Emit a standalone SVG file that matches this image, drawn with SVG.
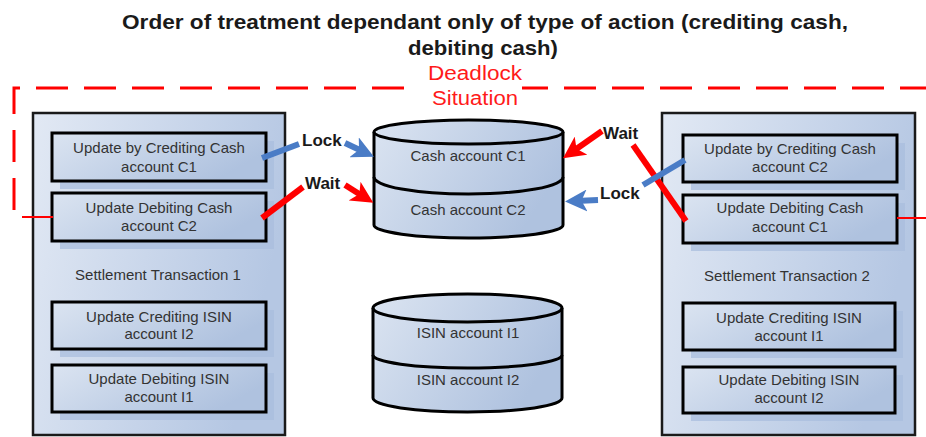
<svg xmlns="http://www.w3.org/2000/svg" width="926" height="437" viewBox="0 0 926 437">
<style>
  text { font-family: "Liberation Sans", Arial, sans-serif; }
  .title { font-size: 21px; font-weight: bold; fill: #1a1a1a; text-anchor: middle; }
  .red { font-size: 20px; fill: #ff1a1a; text-anchor: middle; }
  .lbl { font-size: 15px; fill: #333; text-anchor: middle; }
  .cl { font-size: 17px; font-weight: bold; fill: #1a1a1a; }
  .outer { fill: url(#gOuter); stroke: #1a1a1a; stroke-width: 2.5; }
  .inner { fill: url(#gInner); stroke: #000; stroke-width: 3; }
  .shadow { fill: #a9bddd; opacity: 0.75; }
  .cyl { fill: url(#gInner); stroke: #000; stroke-width: 3; }
  .cylline { fill: none; stroke: #000; stroke-width: 3; }
  .dash { fill: none; stroke: #ff0000; stroke-width: 3; stroke-dasharray: 32 16; }
  .blue { fill: none; stroke: #4a7cc6; stroke-width: 6; }
  .redc { fill: none; stroke: #ff0000; stroke-width: 6; }
</style>
<defs>
  <linearGradient id="gOuter" x1="0" y1="0" x2="1" y2="0.3">
    <stop offset="0" stop-color="#e2e9f4"/>
    <stop offset="1" stop-color="#b5c7e3"/>
  </linearGradient>
  <linearGradient id="gInner" x1="0" y1="0" x2="1" y2="0.4">
    <stop offset="0" stop-color="#dbe4f1"/>
    <stop offset="1" stop-color="#afc2df"/>
  </linearGradient>
  <marker id="ahBlue" viewBox="0 0 10 10" refX="5" refY="5" markerWidth="22" markerHeight="22" markerUnits="userSpaceOnUse" orient="auto">
    <path d="M0,0 L10,5 L0,10 L2.5,5 z" fill="#4a7cc6"/>
  </marker>
  <marker id="ahRed" viewBox="0 0 10 10" refX="5" refY="5" markerWidth="22" markerHeight="22" markerUnits="userSpaceOnUse" orient="auto">
    <path d="M0,0 L10,5 L0,10 L2.5,5 z" fill="#ff0000"/>
  </marker>
</defs>

<rect x="0" y="0" width="926" height="437" fill="#fff"/>

<g id="title">
  <text class="title" x="485" y="29" textLength="726" lengthAdjust="spacingAndGlyphs">Order of treatment dependant only of type of action (crediting cash,</text>
  <text class="title" x="483" y="55" textLength="150" lengthAdjust="spacingAndGlyphs">debiting cash)</text>
</g>

<g id="deadlock">
  <path class="dash" d="M14,210 V88 H940"/>
  <rect x="414" y="78" width="108" height="20" fill="#fff"/>
  <text class="red" x="475" y="80" textLength="94" lengthAdjust="spacingAndGlyphs">Deadlock</text>
  <text class="red" x="475" y="105" textLength="86" lengthAdjust="spacingAndGlyphs">Situation</text>
</g>

<g id="transaction1">
  <rect class="outer" x="33" y="113" width="252" height="322"/>
  <text class="lbl" x="158" y="280">Settlement Transaction 1</text>
</g>
<g id="t1-credit-cash">
  <rect class="shadow" x="60" y="141" width="214" height="48"/>
  <rect class="inner" x="52" y="133" width="214" height="48"/>
  <text class="lbl" x="159" y="153">Update by Crediting Cash</text>
  <text class="lbl" x="159" y="172">account C1</text>
</g>
<g id="t1-debit-cash">
  <rect class="shadow" x="60" y="201" width="214" height="48"/>
  <rect class="inner" x="52" y="193" width="214" height="48"/>
  <text class="lbl" x="159" y="213">Update Debiting Cash</text>
  <text class="lbl" x="159" y="231">account C2</text>
</g>
<g id="t1-credit-isin">
  <rect class="shadow" x="60" y="310" width="214" height="47"/>
  <rect class="inner" x="52" y="302" width="214" height="47"/>
  <text class="lbl" x="159" y="322">Update Crediting ISIN</text>
  <text class="lbl" x="159" y="339">account I2</text>
</g>
<g id="t1-debit-isin">
  <rect class="shadow" x="60" y="373" width="214" height="47"/>
  <rect class="inner" x="52" y="365" width="214" height="47"/>
  <text class="lbl" x="159" y="384">Update Debiting ISIN</text>
  <text class="lbl" x="159" y="402">account I1</text>
</g>

<g id="transaction2">
  <rect class="outer" x="662" y="113" width="253" height="322"/>
  <text class="lbl" x="787" y="281">Settlement Transaction 2</text>
</g>
<g id="t2-credit-cash">
  <rect class="shadow" x="691" y="143" width="214" height="47"/>
  <rect class="inner" x="683" y="135" width="214" height="47"/>
  <text class="lbl" x="790" y="154">Update by Crediting Cash</text>
  <text class="lbl" x="790" y="172">account C2</text>
</g>
<g id="t2-debit-cash">
  <rect class="shadow" x="691" y="203" width="214" height="48"/>
  <rect class="inner" x="683" y="195" width="214" height="48"/>
  <text class="lbl" x="790" y="213">Update Debiting Cash</text>
  <text class="lbl" x="790" y="232">account C1</text>
</g>
<g id="t2-credit-isin">
  <rect class="shadow" x="691" y="311" width="212" height="47"/>
  <rect class="inner" x="683" y="303" width="212" height="47"/>
  <text class="lbl" x="789" y="323">Update Crediting ISIN</text>
  <text class="lbl" x="789" y="341">account I1</text>
</g>
<g id="t2-debit-isin">
  <rect class="shadow" x="691" y="375" width="212" height="46"/>
  <rect class="inner" x="683" y="367" width="212" height="46"/>
  <text class="lbl" x="789" y="385">Update Debiting ISIN</text>
  <text class="lbl" x="789" y="403">account I2</text>
</g>

<g id="cash-db">
  <path class="cyl" d="M374,132 V225 A94.5,13 0 0 0 563,225 V132 A94.5,12 0 0 0 374,132 z"/>
  <path class="cylline" d="M374,132 A94.5,12 0 0 0 563,132"/>
  <path class="cylline" d="M374,177 A94.5,17 0 0 0 563,177"/>
  <text class="lbl" x="468" y="161">Cash account C1</text>
  <text class="lbl" x="468" y="215">Cash account C2</text>
</g>

<g id="isin-db">
  <path class="cyl" d="M373,308 V398 A94.5,14 0 0 0 562,398 V308 A94.5,14 0 0 0 373,308 z"/>
  <path class="cylline" d="M373,308 A94.5,14 0 0 0 562,308"/>
  <path class="cylline" d="M373,355 A94.5,13 0 0 0 562,355"/>
  <text class="lbl" x="468" y="338">ISIN account I1</text>
  <text class="lbl" x="468" y="385">ISIN account I2</text>
</g>

<g id="connectors">
  <line x1="22" y1="217" x2="53" y2="217" stroke="#ff0000" stroke-width="2"/>
  <line x1="897" y1="218" x2="926" y2="218" stroke="#ff0000" stroke-width="2"/>

  <path class="blue" d="M262,158 L299,144"/>
  <path class="blue" d="M345,143 L364,152" marker-end="url(#ahBlue)"/>
  <text class="cl" x="302" y="146">Lock</text>

  <path class="redc" d="M262,218 L303,187"/>
  <path class="redc" d="M345,185 L364,197" marker-end="url(#ahRed)"/>
  <text class="cl" x="305" y="189">Wait</text>

  <path class="redc" d="M633,145 L686,221"/>
  <path class="redc" d="M602,131 L572,152" marker-end="url(#ahRed)"/>
  <text class="cl" x="603" y="139">Wait</text>

  <path class="blue" d="M643,185 L685,160"/>
  <path class="blue" d="M598,200 L576,201" marker-end="url(#ahBlue)"/>
  <text class="cl" x="600" y="199">Lock</text>
</g>
</svg>
